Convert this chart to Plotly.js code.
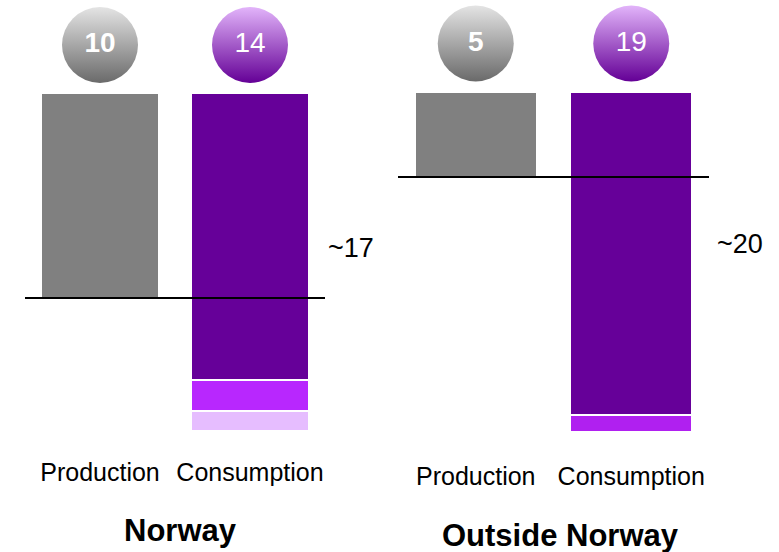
<!DOCTYPE html>
<html>
<head>
<meta charset="utf-8">
<script src="https://cdn.plot.ly/plotly-3.0.1.min.js"></script>
<style>
  html, body { margin: 0; padding: 0; background: #ffffff; }
  #chart { width: 779px; height: 552px; }
</style>
</head>
<body>
<div id="chart"></div>
<script>
// Categories shared by both panels
const categories = ['Production', 'Consumption'];

// Norway (TWh-style units): production and consumption split into stacked parts
const norwayProduction = 10;
const norwayConsumption = [14, 1.5, 1.0];

// Outside Norway
const outsideProduction = 5;
const outsideConsumption = [19, 1.0];

// Panel titles
const panelTitles = ['Norway', 'Outside Norway'];

// Colours
const grey = '#808080';
const purpleDark = '#660099';
const purpleBright = '#b827fe';
const purpleBright2 = '#b020f0';
const purpleLight = '#e6bdff';

const FONT = '"Liberation Sans", Arial, sans-serif';
const W = 779, H = 552;

// Helper: consumption total for the "~" labels
const sum = a => a.reduce((s, v) => s + v, 0);

// Axis geometry (pixel layout of each panel)
const panels = [
  { x0: 25, x1: 325, top: 93, scale: 20.5, bottom: 455, badgeY: 45 },
  { x0: 398, x1: 709, top: 92, scale: 17, bottom: 459, badgeY: 43.5 }
];
function yRange(p) {
  return [(p.bottom - p.top) / p.scale, (0 - p.top) / p.scale];
}
function badgeValue(p) {
  return (p.badgeY - p.top) / p.scale;
}

const barLine = { color: '#ffffff', width: 2.5 };
const barWidth = 0.79;

function bar(xa, ya, cat, val, color) {
  return {
    type: 'bar', x: [cat], y: [val], xaxis: xa, yaxis: ya,
    width: barWidth, marker: { color: color, line: barLine },
    hoverinfo: 'skip', showlegend: false
  };
}

function badge(xa, ya, cat, yv, val, top, bottomCol, bold) {
  return {
    type: 'scatter', mode: 'markers+text', x: [cat], y: [yv],
    xaxis: xa, yaxis: ya,
    text: [String(val)], textposition: 'middle center',
    textfont: { family: FONT, size: 28, color: '#ffffff', weight: bold ? 'bold' : 'normal' },
    marker: {
      size: 76, color: top,
      gradient: { type: 'vertical', color: bottomCol },
      line: { width: 0 }
    },
    hoverinfo: 'skip', showlegend: false, cliponaxis: false
  };
}

const traces = [
  // Norway
  bar('x', 'y', categories[0], norwayProduction, grey),
  bar('x', 'y', categories[1], norwayConsumption[0], purpleDark),
  bar('x', 'y', categories[1], norwayConsumption[1], purpleBright),
  bar('x', 'y', categories[1], norwayConsumption[2], purpleLight),
  badge('x', 'y', categories[0], badgeValue(panels[0]), norwayProduction, '#e4e4e4', '#6a6a6a', true),
  badge('x', 'y', categories[1], badgeValue(panels[0]), norwayConsumption[0], '#e2b4fa', '#640096', false),
  // Outside Norway
  bar('x2', 'y2', categories[0], outsideProduction, grey),
  bar('x2', 'y2', categories[1], outsideConsumption[0], purpleDark),
  bar('x2', 'y2', categories[1], outsideConsumption[1], purpleBright2),
  badge('x2', 'y2', categories[0], badgeValue(panels[1]), outsideProduction, '#e4e4e4', '#6a6a6a', true),
  badge('x2', 'y2', categories[1], badgeValue(panels[1]), outsideConsumption[0], '#e2b4fa', '#640096', false)
];

function xAxis(p) {
  return {
    domain: [p.x0 / W, p.x1 / W], type: 'category',
    categoryorder: 'array', categoryarray: categories,
    range: [-0.5, 1.5], showgrid: false, zeroline: false, showline: false,
    ticks: '', tickfont: { family: FONT, size: 25, color: '#000000' },
    fixedrange: true
  };
}
function yAxis(p, anchor) {
  return {
    domain: [(H - p.bottom) / H, 1], range: yRange(p), anchor: anchor,
    visible: false, showgrid: false, zeroline: false, fixedrange: true
  };
}

const layout = {
  width: W, height: H,
  margin: { l: 0, r: 0, t: 0, b: 0 },
  paper_bgcolor: '#ffffff', plot_bgcolor: '#ffffff',
  barmode: 'stack', showlegend: false,
  font: { family: FONT, color: '#000000' },
  xaxis: Object.assign(xAxis(panels[0]), { anchor: 'y' }),
  yaxis: yAxis(panels[0], 'x'),
  xaxis2: Object.assign(xAxis(panels[1]), { anchor: 'y2' }),
  yaxis2: yAxis(panels[1], 'x2'),
  shapes: [
    { type: 'line', xref: 'x domain', yref: 'y', x0: 0, x1: 1,
      y0: norwayProduction, y1: norwayProduction, line: { color: '#000000', width: 2 } },
    { type: 'line', xref: 'x2 domain', yref: 'y2', x0: 0, x1: 1,
      y0: outsideProduction, y1: outsideProduction, line: { color: '#000000', width: 2 } }
  ],
  annotations: [
    { text: '~' + Math.round(sum(norwayConsumption)), xref: 'paper', yref: 'paper',
      x: 351 / W, y: (H - 248) / H, xanchor: 'center', yanchor: 'middle',
      showarrow: false, font: { family: FONT, size: 27, color: '#000000' } },
    { text: '~' + Math.round(sum(outsideConsumption)), xref: 'paper', yref: 'paper',
      x: 740 / W, y: (H - 244) / H, xanchor: 'center', yanchor: 'middle',
      showarrow: false, font: { family: FONT, size: 27, color: '#000000' } },
    { text: panelTitles[0], xref: 'paper', yref: 'paper',
      x: 180.5 / W, y: (H - 530) / H, xanchor: 'center', yanchor: 'middle',
      showarrow: false, font: { family: FONT, size: 31, color: '#000000', weight: 'bold' } },
    { text: panelTitles[1], xref: 'paper', yref: 'paper',
      x: 560.5 / W, y: (H - 535) / H, xanchor: 'center', yanchor: 'middle',
      showarrow: false, font: { family: FONT, size: 31, color: '#000000', weight: 'bold' } }
  ]
};

Plotly.newPlot('chart', traces, layout, { displayModeBar: false, staticPlot: true });
</script>
</body>
</html>
